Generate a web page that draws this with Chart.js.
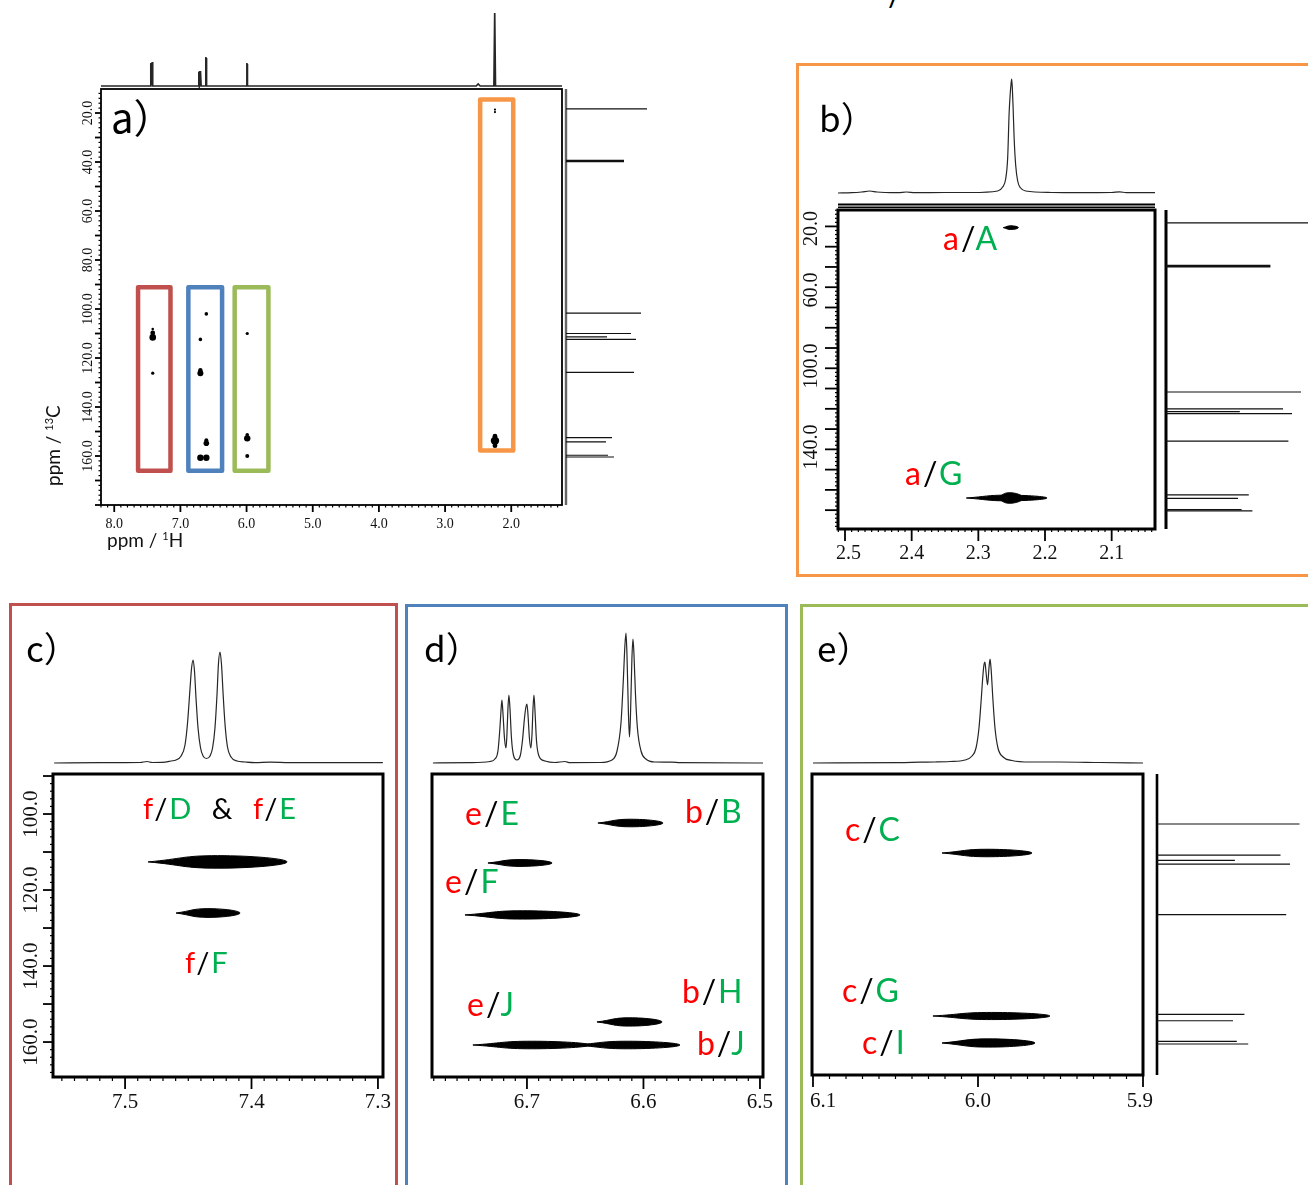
<!DOCTYPE html>
<html>
<head>
<meta charset="utf-8">
<title>HMBC spectra</title>
<script src="https://cdn.jsdelivr.net/npm/chart.js@4.4.1/dist/chart.umd.min.js"></script>
<style>
  html, body { margin: 0; padding: 0; background: #fff; }
  #page { position: relative; width: 1308px; height: 1185px; overflow: hidden; background: #fff; }
  #plots { position: absolute; left: 0; top: 0; width: 1308px; height: 1185px; }
  #plots canvas { position: absolute; }
  .frame { position: absolute; box-sizing: border-box; border: 3px solid; }
  .lbl { position: absolute; font-family: Lato, "Noto Sans", sans-serif; font-size: 32px; line-height: 32px; letter-spacing: 2px; white-space: nowrap; }
  .small { font-size: 29px; line-height: 29px; word-spacing: 9px; }
  .r { color: #ff0000; }
  .g { color: #00b050; }
  .k { color: #000; }
  .panel { position: absolute; font-family: "Noto Sans CJK JP", sans-serif; font-size: 34px; line-height: 34px; color: #000; white-space: nowrap; }
  .title { position: absolute; font-family: Lato, sans-serif; font-size: 19px; line-height: 19px; color: #111; white-space: nowrap; }
  .title sup { font-size: 11px; vertical-align: 7px; line-height: 0; }
</style>
</head>
<body>
<div id="page">
  <div class="frame" style="left:796px;top:63px;width:530px;height:514px;border-color:#f79646"></div>
  <div class="frame" style="left:9px;top:603px;width:389px;height:620px;border-color:#c0504d"></div>
  <div class="frame" style="left:405px;top:604px;width:383px;height:620px;border-color:#4f81bd"></div>
  <div class="frame" style="left:800px;top:604px;width:530px;height:620px;border-color:#9bbb59"></div>

  <div id="plots"></div>

  <div class="lbl k" style="left:888px;top:-22px">/</div>

  <div class="panel" style="left:111px;top:96px;font-size:40px;line-height:40px">a）</div>
  <div class="panel" style="left:819px;top:99px;font-size:35px;line-height:35px">b）</div>
  <div class="panel" style="left:26px;top:629px;font-size:35px;line-height:35px">c）</div>
  <div class="panel" style="left:424px;top:629px;font-size:35px;line-height:35px">d）</div>
  <div class="panel" style="left:817px;top:629px;font-size:35px;line-height:35px">e）</div>

  <div class="title" style="left:107px;top:530px">ppm / <sup>1</sup>H</div>
  <div class="title" style="left:43px;top:486px;transform-origin:0 0;transform:rotate(-90deg)">ppm / <sup>13</sup>C</div>

  <div class="lbl" style="left:943px;top:222px"><span class="r">a</span><span class="k">/</span><span class="g">A</span></div>
  <div class="lbl" style="left:905px;top:457px"><span class="r">a</span><span class="k">/</span><span class="g">G</span></div>

  <div class="lbl small" style="left:143px;top:793px"><span class="r">f</span><span class="k">/</span><span class="g">D</span> <span class="k">&amp;</span> <span class="r">f</span><span class="k">/</span><span class="g">E</span></div>
  <div class="lbl small" style="left:185px;top:947px"><span class="r">f</span><span class="k">/</span><span class="g">F</span></div>

  <div class="lbl" style="left:465px;top:797px"><span class="r">e</span><span class="k">/</span><span class="g">E</span></div>
  <div class="lbl" style="left:685px;top:795px"><span class="r">b</span><span class="k">/</span><span class="g">B</span></div>
  <div class="lbl" style="left:445px;top:865px"><span class="r">e</span><span class="k">/</span><span class="g">F</span></div>
  <div class="lbl" style="left:682px;top:975px"><span class="r">b</span><span class="k">/</span><span class="g">H</span></div>
  <div class="lbl" style="left:467px;top:988px"><span class="r">e</span><span class="k">/</span><span class="g">J</span></div>
  <div class="lbl" style="left:697px;top:1027px"><span class="r">b</span><span class="k">/</span><span class="g">J</span></div>

  <div class="lbl" style="left:845px;top:813px"><span class="r">c</span><span class="k">/</span><span class="g">C</span></div>
  <div class="lbl" style="left:842px;top:974px"><span class="r">c</span><span class="k">/</span><span class="g">G</span></div>
  <div class="lbl" style="left:862px;top:1026px"><span class="r">c</span><span class="k">/</span><span class="g">I</span></div>
</div>

<script>
// 1H projections, [ppm, height]
const protonA = [[8.2,0],[7.47,0],[7.452,0],[7.447,23],[7.440,1],[7.432,1],[7.426,24],[7.419,0],
  [6.730,0],[6.721,14],[6.718,3],[6.715,15],[6.708,0.5],[6.703,3],[6.700,13],[6.697,3],[6.694,15],[6.687,0],
  [6.622,0],[6.617,29],[6.614,6],[6.611,28],[6.605,0],
  [6.002,0],[5.996,23],[5.994,10],[5.993,22],[5.987,0],
  [2.53,0],[2.50,2],[2.47,0],[2.262,0],[2.250,73],[2.238,0],[1.233,0]];

const protonB = [[2.511,0],[2.49,0.3],[2.475,1],[2.463,2],[2.452,1],[2.44,0.5],[2.42,0.3],[2.408,1],[2.395,0.3],
  [2.35,0.5],[2.31,0.5],[2.271,2],[2.2635,6],[2.259,14],[2.256,35],[2.2538,80],[2.2523,98],[2.2511,108],
  [2.25,114],[2.249,105],[2.2478,85],[2.2463,55],[2.244,28],[2.241,12],[2.2365,5],[2.229,2],[2.19,0.5],
  [2.15,0.3],[2.10,0.5],[2.088,1.2],[2.078,0.3],[2.035,0.3]];

const protonC = [[7.5561,0],[7.5198,0.3],[7.4881,0.5],[7.4826,1.5],[7.4787,0.5],[7.4684,0.8],[7.4636,2],
  [7.4597,3],[7.4557,7],[7.4526,18],[7.4506,40],[7.4486,75],[7.4474,95],[7.4462,103],[7.4451,92],
  [7.4439,65],[7.4423,35],[7.4403,15],[7.4383,7],[7.4356,4.5],[7.4328,7],[7.4308,15],[7.4289,35],
  [7.4273,68],[7.4261,100],[7.4249,111],[7.4237,98],[7.4225,70],[7.4209,38],[7.4190,16],[7.4162,6],
  [7.4115,2],[7.4051,1],[7.3972,0.4],[7.3854,0.8],[7.3696,0.3],[7.2961,0.3]];

const protonD = [[6.7807,0],[6.7489,0.3],[6.7318,1.5],[6.7275,4],[6.7249,12],[6.7232,35],[6.7223,52],
  [6.7215,63],[6.7206,50],[6.7193,25],[6.7180,15],[6.7172,28],[6.7163,55],[6.7155,68],[6.7146,55],
  [6.7133,25],[6.7116,8],[6.7086,3],[6.7056,8],[6.7039,22],[6.7021,45],[6.7009,56],[6.7000,59],
  [6.6991,48],[6.6979,25],[6.6966,15],[6.6957,28],[6.6948,55],[6.6940,68],[6.6931,52],[6.6918,22],
  [6.6897,7],[6.6845,2],[6.6760,0.5],[6.6674,1.5],[6.6631,0.3],[6.6373,0.5],[6.6270,3],[6.6227,12],
  [6.6193,40],[6.6172,85],[6.6159,118],[6.6150,130],[6.6142,110],[6.6129,50],[6.6120,26],[6.6112,45],
  [6.6099,105],[6.6090,124],[6.6082,110],[6.6069,70],[6.6052,35],[6.6021,12],[6.5979,4],[6.5901,1],
  [6.5755,0.8],[6.5687,0.3],[6.4974,0]];

const protonE = [[6.1,0],[6.0473,0.3],[6.0352,0.8],[6.0261,1],[6.0170,1.5],[6.0079,3],[6.0036,7],
  [6.0012,15],[5.9994,35],[5.9982,60],[5.9970,88],[5.9964,98],[5.9958,101],[5.9952,92],[5.9942,78],
  [5.9933,96],[5.9927,104],[5.9921,95],[5.9909,62],[5.9897,35],[5.9879,15],[5.9848,6],[5.9794,2.5],
  [5.9685,1],[5.9503,1],[5.9261,0.5],[5.9,0]];

// 13C projection
const carbonShifts = [18.3, 101.7, 110.0, 111.4, 112.4, 125.9, 152.5, 154.2, 159.7, 160.4];
const carbonHeights = [81, 75, 65, 41, 70, 68, 46, 40, 42, 48];
const solventShift = 39.6;
const solventHeight = 58;

// overview a): cross peaks [1H, 13C] and contour level
const spotsA = [[7.418,108.2],[7.418,109.8],[7.418,111.6],[7.418,126.2],
  [6.608,102.0],[6.698,112.4],[6.698,125.0],[6.698,126.2],[6.608,153.6],[6.608,154.8],[6.698,160.7],[6.608,160.7],
  [5.990,110.0],[5.990,151.3],[5.990,152.8],[5.990,160.0],
  [2.246,18.6],[2.246,19.6],[2.246,151.9],[2.246,153.8],[2.246,155.8]];
const spotLevelsA = [1.3, 2.4, 3.3, 1.6, 1.8, 1.8, 2.2, 3.0, 2.0, 2.8, 3.2, 3.2, 1.6, 1.8, 3.2, 2.0, 1.1, 1.1, 2.4, 4.2, 2.4];

// highlighted regions in a)
const boxProtonA = [[7.64, 7.15], [6.88, 6.37], [6.18, 5.67], [2.47, 1.97]];
const boxCarbonA = [[91.1, 166.0], [91.1, 166.0], [91.1, 166.0], [14.5, 157.8]];
const boxColors = ['#c0504d', '#4f81bd', '#9bbb59', '#f79646'];

// contours [1H from, 1H to, 13C centre, 13C half width]
const peaksB = [[2.2625, 2.240, 20.6, 0.9], [2.318, 2.197, 154.0, 1.4], [2.273, 2.233, 154.0, 2.6]];
const peaksC = [[7.4818, 7.3719, 112.6, 1.65], [7.4597, 7.4091, 126.05, 1.15]];
const peaksD = [[6.6391, 6.5833, 101.7, 1.0], [6.7335, 6.6785, 112.27, 0.9], [6.7532, 6.6545, 126.0, 1.1],
  [6.6399, 6.5841, 154.3, 1.1], [6.7464, 6.6459, 160.4, 1.0], [6.6588, 6.5687, 160.4, 1.0]];
const peaksE = [[6.0218, 5.9673, 109.44, 1.0], [6.0273, 5.9564, 152.93, 0.95], [6.0218, 5.9655, 160.13, 1.1]];

// tick labels
const ticksAx = [8.0, 7.0, 6.0, 5.0, 4.0, 3.0, 2.0];
const ticksAy = [20, 40, 60, 80, 100, 120, 140, 160];
const ticksBx = [2.5, 2.4, 2.3, 2.2, 2.1];
const ticksBy = [20, 60, 100, 140];
const ticksCx = [7.5, 7.4, 7.3];
const ticksCy = [100, 120, 140, 160];
const ticksDx = [6.7, 6.6, 6.5];
const ticksEx = [6.1, 6.0, 5.9];

// axis windows
const hA = [1.233, 8.2], cA = [10.2, 180];
const hB = [2.035, 2.5105], cB = [11.9, 169.3];
const hC = [7.296, 7.557], cC = [89.47, 169.2];
const hD = [6.4974, 6.7815], cD = [88.74, 168.86];
const hE = [5.9, 6.1006], cE = [88.36, 168.67];

const plotsEl = document.getElementById('plots');

function pts(pairs) {
	return pairs.map(([x, y]) => ({ x, y }));
}

function tickValues(min, max, step) {
	const out = [];
	const i0 = Math.ceil(min / step - 1e-6);
	const i1 = Math.floor(max / step + 1e-6);
	for (let i = i0; i <= i1; i++) out.push(+(i * step).toFixed(6));
	return out;
}

function isMultiple(v, step) {
	return Math.abs(v / step - Math.round(v / step)) < 1e-6;
}

// frame, ticks and rotated labels drawn from the chart scales
function axesPlugin(o) {
	return {
		id: 'nmrAxes',
		afterDatasetsDraw(chart) {
			const { ctx, chartArea: a } = chart;
			const sx = chart.scales.x;
			const sy = chart.scales.y;
			ctx.save();
			ctx.strokeStyle = '#000';
			ctx.fillStyle = '#111';
			ctx.lineWidth = o.frame;
			ctx.strokeRect(a.left, a.top, a.right - a.left, a.bottom - a.top);
			(o.rules || []).forEach(([off, w]) => {
				ctx.lineWidth = w;
				ctx.beginPath();
				ctx.moveTo(a.left, a.top - off);
				ctx.lineTo(a.right, a.top - off);
				ctx.stroke();
			});
			if (o.x) {
				const t = o.x;
				tickValues(sx.min, sx.max, t.minor).forEach((v) => {
					const major = isMultiple(v, t.major);
					const px = sx.getPixelForValue(v);
					ctx.lineWidth = major ? 1.8 : 1.2;
					ctx.beginPath();
					ctx.moveTo(px, a.bottom);
					ctx.lineTo(px, a.bottom + (major ? t.majorLen : t.minorLen));
					ctx.stroke();
				});
				ctx.font = t.font;
				ctx.textAlign = 'left';
				ctx.textBaseline = 'alphabetic';
				t.labels.forEach((v) => {
					const s = v.toFixed(1);
					const w = ctx.measureText(s).width;
					let left = sx.getPixelForValue(v) - w / 2;
					left = Math.min(Math.max(left, a.left - 2), a.right + 10 - w);
					ctx.fillText(s, left, a.bottom + t.base);
				});
			}
			if (o.y) {
				const t = o.y;
				tickValues(sy.min, sy.max, t.minor).forEach((v) => {
					const major = isMultiple(v, t.major);
					const py = sy.getPixelForValue(v);
					ctx.lineWidth = major ? 1.8 : 1.2;
					ctx.beginPath();
					ctx.moveTo(a.left, py);
					ctx.lineTo(a.left - (major ? t.majorLen : t.minorLen), py);
					ctx.stroke();
				});
				ctx.font = t.font;
				ctx.textBaseline = 'alphabetic';
				t.labels.forEach((v) => {
					const s = v.toFixed(1);
					const w = ctx.measureText(s).width;
					let py = sy.getPixelForValue(v);
					ctx.save();
					if (t.align === 'start') {
						py = Math.max(py, a.top + w + 1);
						ctx.textAlign = 'left';
					} else {
						py = Math.min(Math.max(py, a.top + w / 2), a.bottom - w / 2);
						ctx.textAlign = 'center';
					}
					ctx.translate(a.left - t.base, py);
					ctx.rotate(-Math.PI / 2);
					ctx.fillText(s, 0, 0);
					ctx.restore();
				});
			}
			ctx.restore();
		},
	};
}

function makeChart(box, area, xr, yr, datasets, axes) {
	const cv = document.createElement('canvas');
	cv.width = box.w;
	cv.height = box.h;
	cv.style.left = box.l + 'px';
	cv.style.top = box.t + 'px';
	plotsEl.appendChild(cv);
	return new Chart(cv, {
		type: 'scatter',
		data: { datasets },
		options: {
			responsive: false,
			animation: false,
			events: [],
			layout: {
				padding: {
					left: area.l - box.l,
					top: area.t - box.t,
					right: box.l + box.w - area.r,
					bottom: box.t + box.h - area.b,
				},
			},
			plugins: { legend: { display: false }, tooltip: { enabled: false } },
			scales: {
				x: { type: 'linear', display: false, reverse: xr.reverse, min: xr.min, max: xr.max },
				y: { type: 'linear', display: false, reverse: yr.reverse, min: yr.min, max: yr.max },
			},
		},
		plugins: axes ? [axesPlugin(axes)] : [],
	});
}

function traceSet(trace, smooth) {
	return {
		type: 'line',
		data: pts(trace),
		borderColor: '#262626',
		borderWidth: smooth ? 1.2 : 1.7,
		pointRadius: 0,
		fill: false,
		tension: 0,
		cubicInterpolationMode: smooth ? 'monotone' : 'default',
	};
}

function lensSets(peaks) {
	return peaks.map(([h1, h2, c, dc]) => {
		const mid = (h1 + h2) / 2;
		return {
			type: 'line',
			data: [
				{ x: h1, y: c },
				{ x: mid, y: c - dc },
				{ x: h2, y: c },
				{ x: mid, y: c + dc },
				{ x: h1, y: c },
			],
			borderColor: '#000',
			backgroundColor: '#000',
			borderWidth: 1,
			pointRadius: 0,
			tension: 0.5,
			fill: 'shape',
		};
	});
}

function projectionSets(cRange, baseWidth, baseColor) {
	const sets = carbonShifts.map((c, i) => ({
		type: 'line',
		data: [{ x: 0, y: c }, { x: carbonHeights[i], y: c }],
		borderColor: '#111',
		borderWidth: 1.2,
		pointRadius: 0,
	}));
	sets.push({
		type: 'line',
		data: [{ x: 0, y: solventShift }, { x: solventHeight, y: solventShift }],
		borderColor: '#111',
		borderWidth: 2.6,
		pointRadius: 0,
	});
	sets.push({
		type: 'line',
		data: [{ x: 0, y: cRange[0] }, { x: 0, y: cRange[1] }],
		borderColor: baseColor,
		borderWidth: baseWidth,
		pointRadius: 0,
	});
	return sets;
}

function topTrace(trace, h, area, smooth) {
	const box = { l: area.l, t: area.t - 3, w: area.r - area.l, h: area.b - area.t + 6 };
	// baseline sits 2 px above the bottom of the area, 1 unit = 1 px
	makeChart(box, area, { min: h[0], max: h[1], reverse: true },
		{ min: -2, max: area.b - area.t - 2 }, [traceSet(trace, smooth)]);
}

function sideTrace(c, area, base, k, baseWidth, baseColor) {
	const box = { l: area.l - 3, t: area.t - 3, w: area.r - area.l + 3, h: area.b - area.t + 6 };
	makeChart(box, area, { min: (area.l - base) / k, max: (area.r - base) / k },
		{ min: c[0], max: c[1], reverse: true }, projectionSets(c, baseWidth, baseColor));
}

const serif = (n) => n + 'px "Liberation Serif", "Times New Roman", serif';

// a) overview
const boxSets = boxProtonA.map(([h1, h2], i) => {
	const [c1, c2] = boxCarbonA[i];
	return {
		type: 'line',
		data: [{ x: h1, y: c1 }, { x: h2, y: c1 }, { x: h2, y: c2 }, { x: h1, y: c2 }, { x: h1, y: c1 }],
		borderColor: boxColors[i],
		borderWidth: 4.5,
		borderJoinStyle: 'round',
		borderCapStyle: 'round',
		pointRadius: 0,
	};
});
const spotSet = {
	type: 'scatter',
	data: pts(spotsA),
	pointRadius: spotLevelsA,
	pointBackgroundColor: '#000',
	pointBorderWidth: 0,
};
makeChart({ l: 40, t: 80, w: 540, h: 470 }, { l: 101, t: 89, r: 562, b: 505 },
	{ min: hA[0], max: hA[1], reverse: true }, { min: cA[0], max: cA[1], reverse: true },
	[spotSet, ...boxSets],
	{
		frame: 1.8,
		x: { minor: 0.1, major: 1, minorLen: 2.5, majorLen: 7, labels: ticksAx, font: serif(14), base: 23 },
		y: { minor: 2, major: 10, minorLen: 2.5, majorLen: 6, labels: ticksAy, font: serif(14), base: 9, align: 'center' },
	});
topTrace(protonA, hA, { l: 101, t: 5, r: 562, b: 88 }, false);
sideTrace(cA, { l: 564, t: 89, r: 672, b: 505 }, 566, 1, 2.4, '#666');

// b) methyl region
makeChart({ l: 785, t: 195, w: 375, h: 380 }, { l: 838, t: 210, r: 1155, b: 529 },
	{ min: hB[0], max: hB[1], reverse: true }, { min: cB[0], max: cB[1], reverse: true },
	lensSets(peaksB),
	{
		frame: 3,
		rules: [[5.5, 2], [2.8, 1.4]],
		x: { minor: 0.01, major: 0.1, minorLen: 3, majorLen: 12, labels: ticksBx, font: serif(20), base: 30 },
		y: { minor: 2, major: 10, minorLen: 3, majorLen: 13, labels: ticksBy, font: serif(20), base: 21, align: 'start' },
	});
topTrace(protonB, hB, { l: 838, t: 73, r: 1155, b: 195 }, true);
sideTrace(cB, { l: 1164, t: 210, r: 1308, b: 529 }, 1166, 1.8, 3, '#000');

// c) H-5 region
makeChart({ l: 0, t: 760, w: 400, h: 365 }, { l: 53, t: 774, r: 383, b: 1077 },
	{ min: hC[0], max: hC[1], reverse: true }, { min: cC[0], max: cC[1], reverse: true },
	lensSets(peaksC),
	{
		frame: 3,
		x: { minor: 0.01, major: 0.1, minorLen: 4, majorLen: 12, labels: ticksCx, font: serif(21), base: 31 },
		y: { minor: 2, major: 10, minorLen: 3, majorLen: 10, labels: ticksCy, font: serif(21), base: 16, align: 'center' },
	});
topTrace(protonC, hC, { l: 53, t: 645, r: 383, b: 765 }, true);

// d) H-6 / H-8 region
makeChart({ l: 405, t: 760, w: 380, h: 365 }, { l: 432, t: 774, r: 763, b: 1077 },
	{ min: hD[0], max: hD[1], reverse: true }, { min: cD[0], max: cD[1], reverse: true },
	lensSets(peaksD),
	{
		frame: 3,
		x: { minor: 0.01, major: 0.1, minorLen: 4, majorLen: 12, labels: ticksDx, font: serif(21), base: 31 },
	});
topTrace(protonD, hD, { l: 432, t: 625, r: 763, b: 765 }, true);

// e) H-3 region
makeChart({ l: 800, t: 760, w: 355, h: 365 }, { l: 812, t: 774, r: 1143, b: 1075 },
	{ min: hE[0], max: hE[1], reverse: true }, { min: cE[0], max: cE[1], reverse: true },
	lensSets(peaksE),
	{
		frame: 3,
		x: { minor: 0.01, major: 0.1, minorLen: 4, majorLen: 12, labels: ticksEx, font: serif(21), base: 32 },
	});
topTrace(protonE, hE, { l: 812, t: 645, r: 1143, b: 765 }, true);
sideTrace(cE, { l: 1155, t: 774, r: 1308, b: 1075 }, 1157, 1.9, 2.6, '#000');
</script>
</body>
</html>
